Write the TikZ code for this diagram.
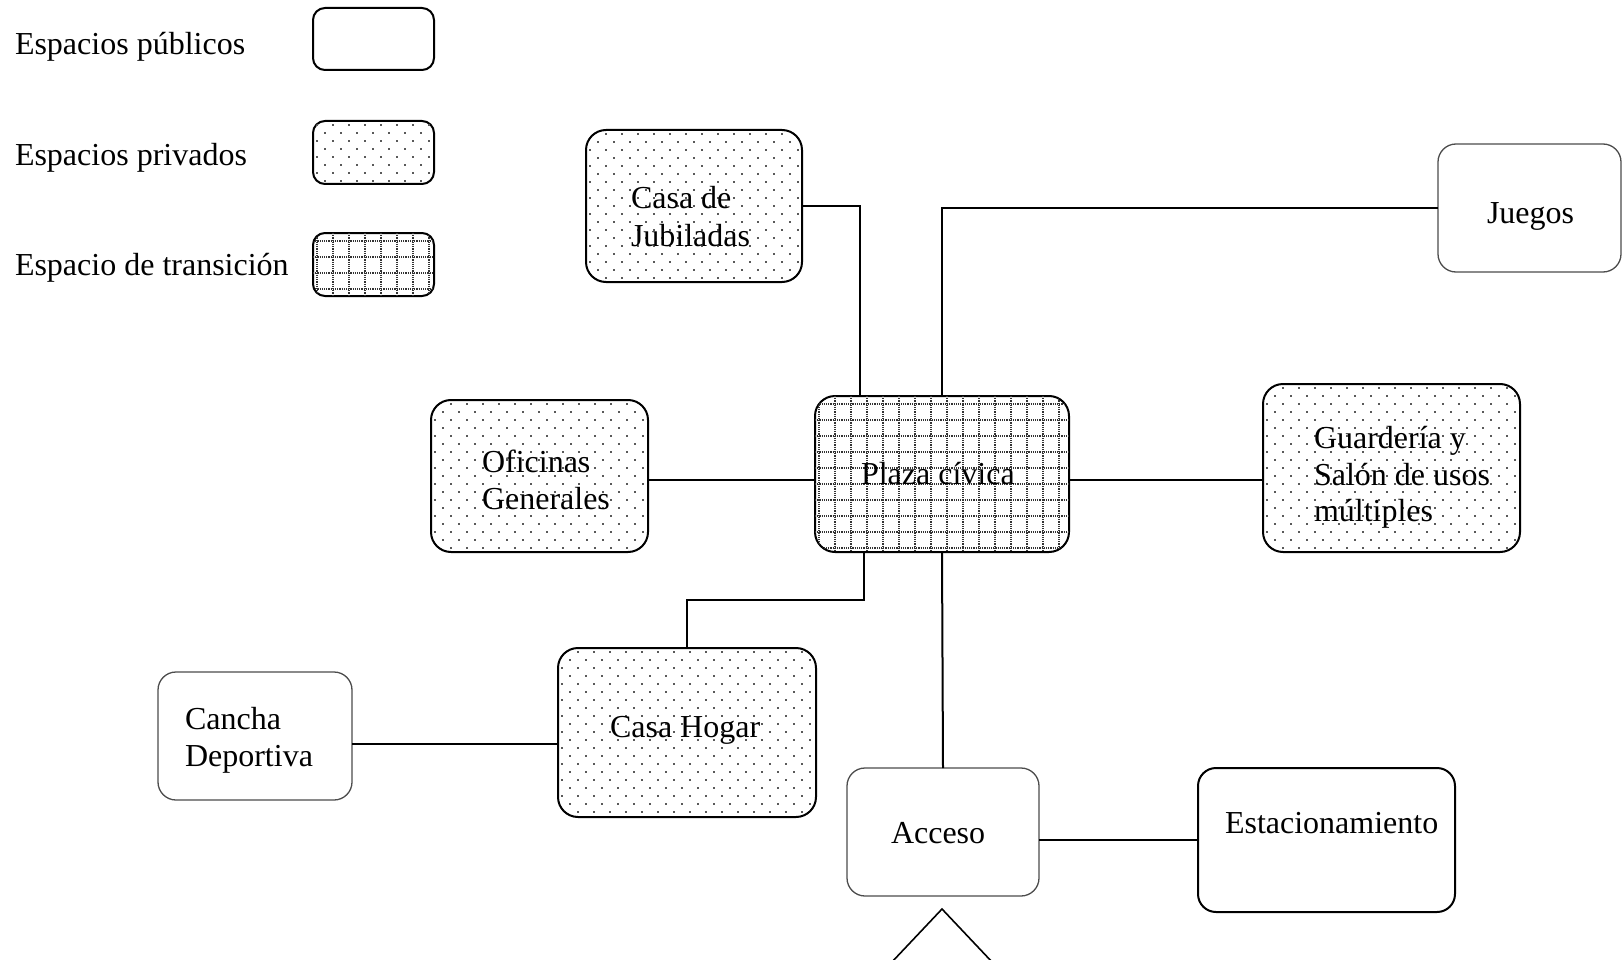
\documentclass[tikz,border=0pt]{standalone}
\usepackage{fontspec}
\setmainfont{Liberation Serif}
\usetikzlibrary{calc}

\definecolor{dotgray}{gray}{0.35}

\tikzset{
  lbl/.style={anchor=base west, inner sep=0pt, outer sep=0pt,
    font=\fontsize{32}{37}\selectfont, align=left},
  boxbase/.style={rectangle, inner sep=0pt, outer sep=0pt},
  % public space: plain rounded box
  pubbox/.style={boxbase, draw=black!70, line width=1.3pt, rounded corners=18pt},
  pubboxthick/.style={boxbase, draw=black, line width=2pt, rounded corners=18pt},
  % private and transition spaces: the fill is added afterwards
  privbox/.style={boxbase, draw=black, line width=2pt, rounded corners=20pt},
  link/.style={draw=black, line width=2pt},
}

% staggered dot fill inside a rounded box
\newcommand{\privpattern}[2]{%
  \begin{scope}
    \clip[rounded corners=#2] (#1.north west) rectangle (#1.south east);
    \begin{scope}[shift={(#1.north west)}]
      \foreach \r [evaluate=\r as \off using {mod(\r,2)*8}] in {0,...,22}{
        \foreach \c in {0,...,17}{
          \fill[dotgray, sharp corners] (\c*16+\off+3.2, \r*8+3.2) rectangle ++(1.6,1.6);
        }
      }
    \end{scope}
  \end{scope}}

% dotted square grid inside a rounded box
\newcommand{\transpattern}[2]{%
  \begin{scope}
    \clip[rounded corners=#2] (#1.north west) rectangle (#1.south east);
    \begin{scope}[shift={(#1.north west)}]
      \foreach \c in {0,...,17}{
        \draw[black!80, line width=1.2pt, densely dotted, sharp corners] (\c*16+4, 0) -- ++(0, 200);
      }
      \foreach \r in {0,...,12}{
        \draw[black!80, line width=1.2pt, densely dotted, sharp corners] (0, \r*16+8) -- ++(300, 0);
      }
    \end{scope}
  \end{scope}}

\begin{document}
\begin{tikzpicture}[x=1pt, y=-1pt]
  \useasboundingbox (0,0) rectangle (1622,960);

  % legend
  \node[lbl] (legpubtxt)   at (15,55)  {Espacios públicos};
  \node[lbl] (legprivtxt)  at (15,166) {Espacios privados};
  \node[lbl] (legtranstxt) at (15,275) {Espacio de transición};
  \node[pubboxthick, rounded corners=12pt, minimum width=121pt, minimum height=62pt] (legpub) at (373.5,39) {};
  \node[privbox, rounded corners=12pt, minimum width=121pt, minimum height=63pt] (legpriv) at (373.5,152.5) {};
  \node[privbox, rounded corners=12pt, minimum width=121pt, minimum height=63pt] (legtrans) at (373.5,264.5) {};
  \privpattern{legpriv}{12pt}
  \transpattern{legtrans}{12pt}

  % spaces
  \node[privbox, minimum width=216pt, minimum height=152pt] (jub) at (694,206) {};
  \node[pubbox, minimum width=183pt, minimum height=128pt] (juegos) at (1529.5,208) {};
  \node[privbox, minimum width=254pt, minimum height=156pt] (plaza) at (942,474) {};
  \node[privbox, minimum width=217pt, minimum height=152pt] (ofi) at (539.5,476) {};
  \node[privbox, minimum width=257pt, minimum height=168pt] (guard) at (1391.5,468) {};
  \node[privbox, minimum width=258pt, minimum height=169pt] (hogar) at (687,732.5) {};
  \node[pubbox, minimum width=194pt, minimum height=128pt] (cancha) at (255,736) {};
  \node[pubbox, minimum width=192pt, minimum height=128pt] (acceso) at (943,832) {};
  \node[pubboxthick, minimum width=257pt, minimum height=144pt] (estac) at (1326.5,840) {};

  \privpattern{jub}{20pt}
  \privpattern{ofi}{20pt}
  \privpattern{guard}{20pt}
  \privpattern{hogar}{20pt}
  \transpattern{plaza}{20pt}

  % labels of the spaces
  \node[lbl] (jubtxt1) at (631,209) {Casa de};
  \node[lbl] (jubtxt2) at (631,246) {Jubiladas};
  \node[lbl] (juegostxt) at (1487,224) {Juegos};
  \node[lbl] (plazatxt) at (861,484) {Plaza cívica};
  \node[lbl] (ofitxt1) at (482,472) {Oficinas};
  \node[lbl] (ofitxt2) at (482,509) {Generales};
  \node[lbl] (guardtxt1) at (1314,448) {Guardería y};
  \node[lbl] (guardtxt2) at (1314,485) {Salón de usos};
  \node[lbl] (guardtxt3) at (1314,521) {múltiples};
  \node[lbl] (hogartxt) at (610,737) {Casa Hogar};
  \node[lbl] (canchatxt1) at (185,729) {Cancha};
  \node[lbl] (canchatxt2) at (185,766) {Deportiva};
  \node[lbl] (accesotxt) at (891,843) {Acceso};
  \node[lbl] (estactxt) at (1225,833) {Estacionamiento};

  % connectors
  \draw[link] (jub.east) -| ([xshift=-82pt]plaza.north);
  \draw[link] (juegos.west) -| (plaza.north);
  \draw[link] ([yshift=-6pt]plaza.west) -- ([yshift=-6pt]plaza.west -| ofi.east);
  \draw[link] ([yshift=-6pt]plaza.east) -- ([yshift=-6pt]plaza.east -| guard.west);
  \draw[link] ([xshift=-78pt]plaza.south) -- ++(0,48) -| (hogar.north);
  \draw[link] (plaza.south) -- (acceso.north);
  \draw[link] ([yshift=-8pt]cancha.east) -- ([yshift=-8pt]cancha.east -| hogar.west);
  \draw[link] (estac.west) -- (estac.west -| acceso.east);

  % entrance marker
  \draw[line width=1.6pt, line join=miter] (891,963) -- (942,909) -- (993,963);
\end{tikzpicture}
\end{document}
